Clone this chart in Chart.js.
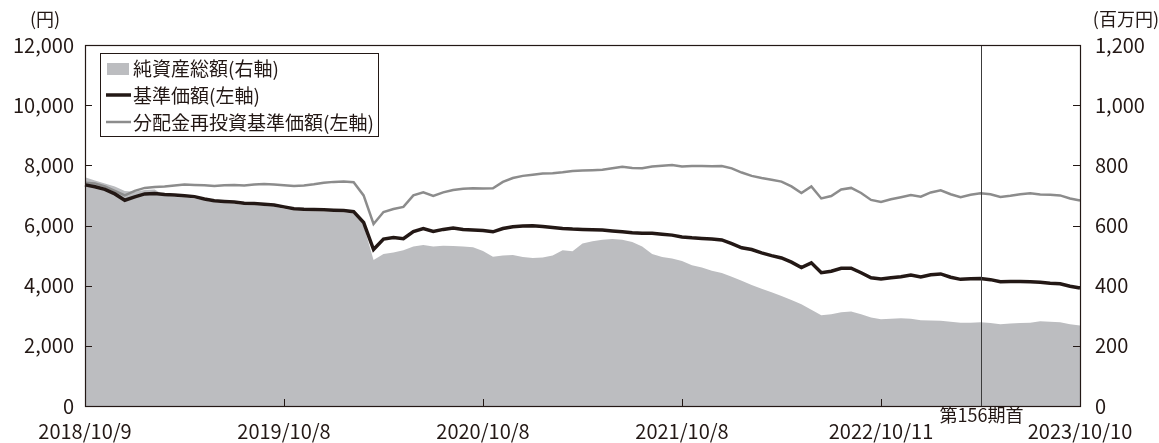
<!DOCTYPE html>
<html>
<head>
<meta charset="utf-8">
<script src="https://cdn.jsdelivr.net/npm/chart.js@4.4.0/dist/chart.umd.min.js"></script>
<style>
  html, body { margin: 0; padding: 0; background: #fff; }
  #wrap { width: 1159px; height: 443px; position: relative; }
</style>
</head>
<body>
<div id="wrap"><canvas id="myChart"></canvas></div>
<script>
// x axis: 101 points from 2018/10/9 to 2023/10/10
var tickIndex = [0, 20, 40, 60, 80, 100];
var tickLabels = ['2018/10/9', '2019/10/8', '2020/10/8', '2021/10/8', '2022/10/11', '2023/10/10'];
var periodIndex = 90;
var periodLabel = '第156期首';

// 基準価額 (円, left axis)
var navValues = [
  7350, 7290, 7200, 7050, 6840, 6950, 7050, 7060, 7030, 7010,
  6990, 6960, 6880, 6820, 6800, 6780, 6740, 6730, 6710, 6680,
  6620, 6560, 6540, 6530, 6520, 6510, 6500, 6460, 6100, 5200,
  5550, 5600, 5560, 5800, 5900, 5800, 5870, 5920, 5870, 5850,
  5830, 5790, 5900, 5960, 5980, 5990, 5965, 5930, 5900, 5880,
  5870, 5860, 5850, 5820, 5790, 5760, 5740, 5740, 5710, 5680,
  5620, 5590, 5570, 5550, 5520, 5400, 5260, 5200, 5090, 5000,
  4920, 4780, 4600, 4760, 4430, 4480, 4580, 4580, 4430, 4260,
  4220, 4260, 4300, 4350, 4290, 4360, 4390, 4280, 4210, 4230,
  4240, 4200, 4130, 4140, 4140, 4130, 4110, 4080, 4060, 3980,
  3920
];

// 分配金再投資基準価額 (円, left axis)
var reinvValues = [
  7420, 7400, 7300, 7150, 7000, 7150, 7250, 7280, 7300, 7330,
  7360, 7350, 7340, 7310, 7340, 7350, 7330, 7360, 7380, 7360,
  7340, 7310, 7330, 7370, 7420, 7450, 7460, 7440, 7000, 6050,
  6450, 6550, 6620, 7000, 7100, 6980, 7100, 7180, 7220, 7240,
  7230, 7240, 7450, 7580, 7650, 7690, 7730, 7740, 7770, 7810,
  7830, 7840, 7850, 7900, 7950, 7910, 7900, 7960, 7990, 8010,
  7960, 7975, 7980, 7970, 7980, 7900, 7760, 7650, 7580, 7520,
  7460, 7300, 7080, 7300, 6900, 6980, 7200, 7250, 7080, 6850,
  6780, 6870, 6940, 7010, 6960, 7100, 7170, 7040, 6940, 7020,
  7070, 7040, 6950, 6990, 7040, 7070, 7030, 7020, 7000, 6900,
  6830
];

// 純資産総額 (百万円, right axis)
var assetValues = [
  760, 750, 740, 730, 715, 712, 718, 720, 700, 695,
  693, 690, 683, 677, 675, 672, 668, 667, 665, 662,
  656, 650, 648, 647, 646, 645, 644, 640, 600, 485,
  505, 510, 518, 530, 535, 530, 533, 532, 530, 528,
  515, 496, 500, 502, 495, 492, 494, 500, 518, 514,
  540, 548, 553, 555, 553, 545, 530, 505, 495, 490,
  482, 468, 460, 450, 442, 430, 416, 402, 390, 378,
  366, 352, 338, 320, 302, 305, 312, 314, 305, 294,
  288, 290, 292, 290, 285, 284, 283, 280, 277, 277,
  278, 276, 272, 274, 276, 277, 282, 280, 278, 272,
  268
];

var leftTicks = [0, 2000, 4000, 6000, 8000, 10000, 12000];
var rightTicks = [0, 200, 400, 600, 800, 1000, 1200];

var ink = '#231815';
var areaColor = '#bcbdc0';
var reinvColor = '#8c8c8c';
var fontFamily = '"Noto Sans CJK JP", "Noto Sans", sans-serif';

var labels = navValues.map(function (v, i) { return i; });

var framePlugin = {
  id: 'frame',
  afterDatasetsDraw: function (chart) {
    var ctx = chart.ctx;
    var a = chart.chartArea;
    var y = chart.scales.y, y2 = chart.scales.y2, x = chart.scales.x;
    ctx.save();

    // period line
    var px = Math.round(x.getPixelForValue(periodIndex)) + 0.5;
    ctx.strokeStyle = '#3c3c3c';
    ctx.lineWidth = 1;
    ctx.beginPath();
    ctx.moveTo(px, a.top);
    ctx.lineTo(px, a.bottom);
    ctx.stroke();

    // frame
    ctx.strokeStyle = ink;
    ctx.lineWidth = 1.2;
    ctx.strokeRect(Math.round(a.left) + 0.5, Math.round(a.top) + 0.5,
      Math.round(a.right - a.left), Math.round(a.bottom - a.top));

    // inward ticks
    ctx.lineWidth = 1;
    leftTicks.forEach(function (v) {
      var py = Math.round(y.getPixelForValue(v)) + 0.5;
      ctx.beginPath(); ctx.moveTo(a.left, py); ctx.lineTo(a.left + 7, py); ctx.stroke();
    });
    rightTicks.forEach(function (v) {
      var py = Math.round(y2.getPixelForValue(v)) + 0.5;
      ctx.beginPath(); ctx.moveTo(a.right - 7, py); ctx.lineTo(a.right, py); ctx.stroke();
    });
    tickIndex.forEach(function (v) {
      var tx = Math.round(x.getPixelForValue(v)) + 0.5;
      ctx.beginPath(); ctx.moveTo(tx, a.bottom - 7); ctx.lineTo(tx, a.bottom); ctx.stroke();
    });

    // period label
    ctx.fillStyle = ink;
    ctx.font = '18px ' + fontFamily;
    ctx.textAlign = 'center';
    ctx.textBaseline = 'middle';
    ctx.fillText(periodLabel, px, a.bottom + 9);

    // unit labels
    ctx.font = '18px ' + fontFamily;
    ctx.textAlign = 'left';
    ctx.fillText('(円)', 30, 19);
    ctx.textAlign = 'right';
    ctx.fillText('(百万円)', 1159, 19);

    // legend
    var lx = 100, ly = 53;
    ctx.fillStyle = '#fff';
    ctx.fillRect(lx, ly, 278, 83);
    ctx.strokeStyle = ink;
    ctx.lineWidth = 1;
    ctx.strokeRect(lx + 0.5, ly + 0.5, 278, 83);

    ctx.fillStyle = areaColor;
    ctx.fillRect(107, 63, 22, 12);

    ctx.strokeStyle = ink;
    ctx.lineWidth = 3.5;
    ctx.beginPath(); ctx.moveTo(106, 95); ctx.lineTo(131, 95); ctx.stroke();

    ctx.strokeStyle = reinvColor;
    ctx.lineWidth = 2.5;
    ctx.beginPath(); ctx.moveTo(106, 122); ctx.lineTo(131, 122); ctx.stroke();

    ctx.fillStyle = ink;
    ctx.font = '19px ' + fontFamily;
    ctx.textAlign = 'left';
    ctx.textBaseline = 'middle';
    ctx.fillText('純資産総額(右軸)', 133, 69);
    ctx.fillText('基準価額(左軸)', 133, 96);
    ctx.fillText('分配金再投資基準価額(左軸)', 133, 123);

    ctx.restore();
  }
};

var ctx = document.getElementById('myChart').getContext('2d');

var chartData = {
  type: 'line',
  data: {
    labels: labels,
    datasets: [
      {
        label: '基準価額(左軸)',
        data: navValues,
        yAxisID: 'y',
        borderColor: ink,
        borderWidth: 3.5,
        pointRadius: 0,
        tension: 0,
        fill: false,
        order: 1,
      },
      {
        label: '分配金再投資基準価額(左軸)',
        data: reinvValues,
        yAxisID: 'y',
        borderColor: reinvColor,
        borderWidth: 2.5,
        pointRadius: 0,
        tension: 0,
        fill: false,
        order: 2,
      },
      {
        label: '純資産総額(右軸)',
        data: assetValues,
        yAxisID: 'y2',
        borderWidth: 0,
        borderColor: areaColor,
        backgroundColor: areaColor,
        pointRadius: 0,
        tension: 0,
        fill: 'origin',
        order: 3,
      },
    ],
  },
  options: {
    responsive: true,
    maintainAspectRatio: false,
    animation: false,
    layout: { padding: { top: 45, left: 0, right: 0, bottom: 0 } },
    plugins: { legend: { display: false }, tooltip: { enabled: false } },
    scales: {
      x: {
        type: 'category',
        offset: false,
        grid: { display: false, drawTicks: false },
        border: { display: false },
        afterBuildTicks: function (scale) {
          scale.ticks = tickIndex.map(function (v) { return { value: v }; });
        },
        afterFit: function (scale) { scale.height = 37; },
        ticks: {
          autoSkip: false,
          maxRotation: 0,
          padding: 13,
          color: ink,
          font: { family: fontFamily, size: 20 },
          callback: function (value) {
            var k = tickIndex.indexOf(value);
            return k >= 0 ? tickLabels[k] : '';
          },
        },
      },
      y: {
        position: 'left',
        min: 0,
        max: 12000,
        grid: { display: false, drawTicks: false },
        border: { display: false },
        afterBuildTicks: function (scale) {
          scale.ticks = leftTicks.map(function (v) { return { value: v }; });
        },
        afterFit: function (scale) { scale.width = 85; },
        ticks: {
          padding: 11,
          color: ink,
          font: { family: fontFamily, size: 20 },
          callback: function (value) { return value.toLocaleString('en-US'); },
        },
      },
      y2: {
        position: 'right',
        min: 0,
        max: 1200,
        grid: { display: false, drawTicks: false },
        border: { display: false },
        afterBuildTicks: function (scale) {
          scale.ticks = rightTicks.map(function (v) { return { value: v }; });
        },
        afterFit: function (scale) { scale.width = 79; },
        ticks: {
          padding: 15,
          color: ink,
          font: { family: fontFamily, size: 20 },
          callback: function (value) { return value.toLocaleString('en-US'); },
        },
      },
    },
  },
  plugins: [framePlugin],
};

var myChart = new Chart(ctx, chartData);
</script>
</body>
</html>
